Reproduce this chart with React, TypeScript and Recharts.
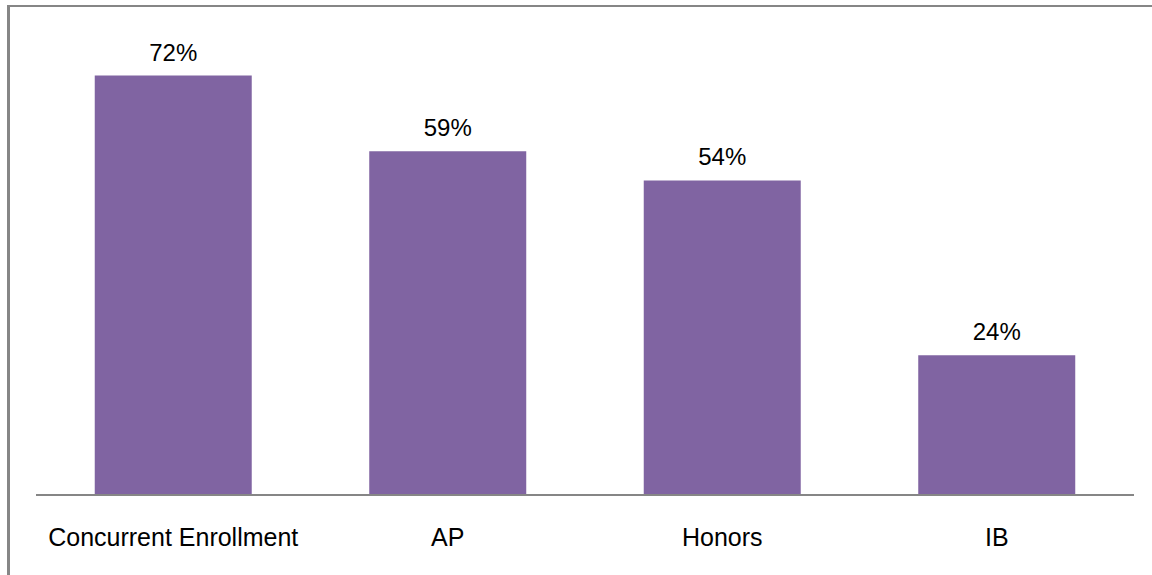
import { BarChart, Bar, XAxis, YAxis, LabelList } from 'recharts';

const categories = ['Concurrent Enrollment', 'AP', 'Honors', 'IB'];
const percentages = [72, 59, 54, 24];

const data = categories.map((name, i) => ({ name, value: percentages[i] }));

const font = 'Liberation Sans, Arial, sans-serif';

export default function App() {
  return (
    <div style={{ position: 'fixed', left: 0, top: 0, width: 1152, height: 575, background: '#fff', overflow: 'hidden' }}>
      <div style={{ position: 'absolute', left: 7, top: 5, right: 0, bottom: 0, borderTop: '2px solid #868686', borderLeft: '3px solid #868686' }} />
      <div style={{ position: 'absolute', left: 0, top: 0 }}>
        <BarChart width={1152} height={575} data={data} margin={{ top: 29, right: 18, left: 36, bottom: 0 }} barCategoryGap="21.4%">
          <XAxis dataKey="name" height={80} tickSize={0} tickMargin={33} axisLine={{ stroke: '#868686', strokeWidth: 2 }}
            tick={{ fill: '#000', fontSize: 25, fontFamily: font }} interval={0} />
          <YAxis hide domain={[0, 80]} />
          <Bar dataKey="value" fill="#8064A2" isAnimationActive={false}>
            <LabelList dataKey="value" position="top" offset={15} formatter={(v: any) => `${v}%`}
              style={{ fill: '#000', fontSize: 24, fontFamily: font }} />
          </Bar>
        </BarChart>
      </div>
    </div>
  );
}
